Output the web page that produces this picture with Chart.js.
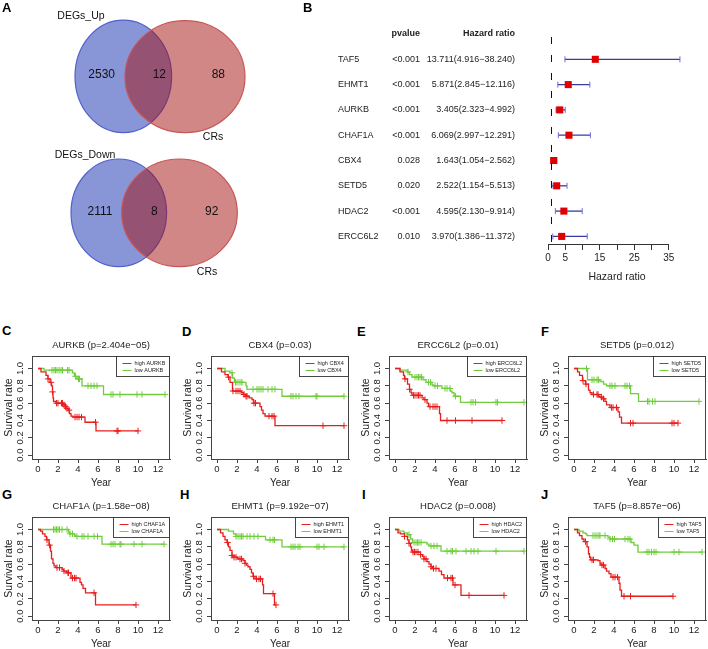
<!DOCTYPE html>
<html>
<head>
<meta charset="utf-8">
<script src="https://cdn.jsdelivr.net/npm/chart.js@4.4.1/dist/chart.umd.min.js"></script>
<style>
html, body { margin: 0; padding: 0; background: #fff; }
#fig { position: relative; width: 708px; height: 649px; overflow: hidden; font-family: 'Liberation Sans', Arial, sans-serif; }
#fig canvas { position: absolute; }
.lbl { position: absolute; font-weight: bold; font-size: 13px; line-height: 13px; color: #000; }
</style>
</head>
<body>
<div id="fig">
  <canvas id="venn" width="300" height="300" style="left:0;top:0"></canvas>
  <canvas id="forest" width="408" height="300" style="left:300px;top:0"></canvas>
  <div class="lbl" style="left:2px;top:1px">A</div>
  <div class="lbl" style="left:303px;top:1px">B</div>
  <div class="lbl" style="left:2px;top:324px">C</div>
  <div class="lbl" style="left:182px;top:325px">D</div>
  <div class="lbl" style="left:357px;top:325px">E</div>
  <div class="lbl" style="left:541px;top:325px">F</div>
  <div class="lbl" style="left:2px;top:488px">G</div>
  <div class="lbl" style="left:180px;top:488px">H</div>
  <div class="lbl" style="left:362px;top:488px">I</div>
  <div class="lbl" style="left:541px;top:488px">J</div>
</div>
<script>
// ---- Venn (A)
const vennTitles = ['DEGs_Up', 'DEGs_Down'];
const vennOther = 'CRs';
const vennUp = [2530, 12, 88];
const vennDown = [2111, 8, 92];

// ---- forest plot (B)
const genes = ['TAF5', 'EHMT1', 'AURKB', 'CHAF1A', 'CBX4', 'SETD5', 'HDAC2', 'ERCC6L2'];
const pvals = ['<0.001', '<0.001', '<0.001', '<0.001', '0.028', '0.020', '<0.001', '0.010'];
const hr = [13.711, 5.871, 3.405, 6.069, 1.643, 2.522, 4.595, 3.970];
const hrLow = [4.916, 2.845, 2.323, 2.997, 1.054, 1.154, 2.130, 1.386];
const hrHigh = [38.240, 12.116, 4.992, 12.291, 2.562, 5.513, 9.914, 11.372];
const hrTicks = [0, 5, 10, 15, 20, 25, 30, 35];
const hrTickLabels = [0, 5, 15, 25, 35];

// ---- survival curves (C-J): event times, survival after event, censor times
const kmGenes = ['AURKB', 'CBX4', 'ERCC6L2', 'SETD5', 'CHAF1A', 'EHMT1', 'HDAC2', 'TAF5'];
const kmPvals = ['2.404e\u221205', '0.03', '0.01', '0.012', '1.58e\u221208', '9.192e\u221207', '0.008', '8.857e\u221206'];
const yearTicks = [0, 2, 4, 6, 8, 10, 12];
const survTicks = [0, 0.2, 0.4, 0.6, 0.8, 1.0];

const AURKB_high_t = [0.3, 0.8, 1.0, 1.2, 1.35, 1.45, 1.5, 1.55, 1.8, 2.5, 2.7, 2.8, 3.0, 3.15, 3.3, 3.5, 4.7, 5.8];
const AURKB_high_s = [0.96, 0.92, 0.88, 0.84, 0.80, 0.73, 0.66, 0.62, 0.60, 0.58, 0.56, 0.54, 0.52, 0.48, 0.45, 0.44, 0.38, 0.28];
const AURKB_high_c = [1.0, 1.3, 1.45, 1.85, 2.0, 2.35, 2.45, 2.6, 2.75, 2.9, 3.1, 3.7, 3.9, 4.1, 4.35, 5.75, 7.9, 8.0, 10.0];
const AURKB_low_t = [0.6, 3.45, 3.65, 3.9, 4.4, 6.55];
const AURKB_low_s = [0.98, 0.95, 0.91, 0.88, 0.80, 0.70];
const AURKB_low_c = [1.4, 1.6, 1.75, 1.9, 2.1, 2.3, 2.45, 2.95, 3.1, 3.75, 4.05, 4.15, 5.0, 5.3, 5.6, 5.9, 7.3, 7.5, 8.2, 9.9, 10.4, 12.7];

const CBX4_high_t = [0.45, 0.8, 1.1, 1.3, 1.55, 2.45, 2.65, 2.85, 3.2, 3.5, 3.65, 4.3, 4.45, 4.6, 4.8, 5.8];
const CBX4_high_s = [0.96, 0.93, 0.90, 0.84, 0.74, 0.72, 0.70, 0.68, 0.66, 0.64, 0.60, 0.56, 0.52, 0.48, 0.45, 0.34];
const CBX4_high_c = [1.15, 1.6, 1.9, 2.1, 2.3, 2.7, 2.9, 3.0, 3.7, 3.85, 5.2, 5.5, 5.7, 10.6, 12.7];
const CBX4_low_t = [0.8, 1.3, 1.55, 1.75, 2.9, 3.0, 6.5];
const CBX4_low_s = [0.97, 0.95, 0.89, 0.84, 0.80, 0.76, 0.68];
const CBX4_low_c = [1.5, 1.85, 2.0, 2.2, 2.4, 2.5, 3.6, 4.0, 4.2, 4.4, 4.6, 5.1, 5.5, 5.8, 7.4, 7.6, 7.9, 8.2, 9.9, 10.0, 12.7];

const ERCC6L2_high_t = [0.5, 0.85, 0.95, 1.25, 1.45, 1.6, 1.7, 2.7, 2.9, 3.2, 3.35, 4.45, 4.55];
const ERCC6L2_high_s = [0.96, 0.92, 0.88, 0.82, 0.76, 0.72, 0.69, 0.66, 0.64, 0.60, 0.56, 0.48, 0.40];
const ERCC6L2_high_c = [1.0, 1.45, 1.85, 2.0, 2.2, 2.35, 2.5, 3.0, 3.5, 3.8, 4.0, 4.2, 5.2, 6.05, 7.7, 10.7];
const ERCC6L2_low_t = [0.5, 1.25, 1.45, 1.7, 2.8, 3.1, 3.7, 3.85, 4.7, 5.55, 5.7, 5.9, 6.55];
const ERCC6L2_low_s = [0.98, 0.96, 0.93, 0.90, 0.87, 0.84, 0.81, 0.80, 0.77, 0.74, 0.72, 0.68, 0.61];
const ERCC6L2_low_c = [1.3, 2.0, 2.2, 2.35, 2.5, 2.65, 3.35, 3.55, 4.0, 4.25, 5.0, 5.2, 5.5, 6.05, 7.6, 7.8, 8.05, 10.1, 10.25, 12.9];

const SETD5_high_t = [0.35, 0.55, 0.85, 1.15, 1.45, 1.6, 1.8, 2.45, 2.6, 2.9, 3.1, 3.25, 3.6, 4.4, 4.55, 4.75];
const SETD5_high_s = [0.96, 0.92, 0.86, 0.82, 0.75, 0.72, 0.70, 0.68, 0.67, 0.65, 0.62, 0.58, 0.55, 0.50, 0.44, 0.37];
const SETD5_high_c = [0.9, 1.2, 1.95, 2.3, 2.4, 2.75, 2.95, 3.75, 3.9, 4.25, 5.65, 5.9, 9.8, 10.0, 10.4];
const SETD5_low_t = [1.35, 2.6, 2.95, 3.25, 5.65, 6.45];
const SETD5_low_s = [0.87, 0.85, 0.82, 0.80, 0.71, 0.62];
const SETD5_low_c = [1.25, 1.8, 2.0, 2.3, 2.45, 3.6, 3.8, 4.1, 5.1, 5.3, 5.55, 7.35, 7.5, 7.85, 8.1, 12.5];

const CHAF1A_high_t = [0.25, 0.45, 0.7, 0.85, 1.1, 1.25, 1.35, 1.5, 1.6, 1.8, 2.4, 2.55, 2.9, 3.3, 4.2, 4.35, 4.5, 4.75, 5.75];
const CHAF1A_high_s = [0.98, 0.95, 0.92, 0.88, 0.82, 0.75, 0.66, 0.61, 0.58, 0.56, 0.54, 0.52, 0.50, 0.44, 0.39, 0.36, 0.32, 0.27, 0.13];
const CHAF1A_high_c = [0.9, 1.15, 1.9, 2.15, 2.6, 3.0, 3.05, 3.45, 3.65, 3.8, 5.6, 9.8];
const CHAF1A_low_t = [3.05, 3.2, 3.65, 3.8, 6.4];
const CHAF1A_low_s = [0.97, 0.95, 0.93, 0.92, 0.83];
const CHAF1A_low_c = [1.55, 1.7, 1.85, 2.0, 2.15, 2.4, 2.9, 3.2, 3.45, 3.9, 4.4, 4.6, 5.0, 5.6, 5.95, 7.3, 7.5, 7.7, 8.2, 8.3, 9.6, 10.4, 12.6];

const EHMT1_high_t = [0.35, 0.6, 0.8, 1.0, 1.15, 1.3, 1.5, 1.6, 2.05, 2.6, 2.8, 2.95, 3.1, 3.3, 3.45, 3.6, 3.8, 4.55, 4.65, 5.75];
const EHMT1_high_s = [0.96, 0.92, 0.88, 0.85, 0.80, 0.76, 0.70, 0.68, 0.66, 0.64, 0.61, 0.59, 0.57, 0.54, 0.50, 0.46, 0.43, 0.36, 0.26, 0.13];
const EHMT1_high_c = [1.05, 1.5, 1.7, 1.9, 2.3, 2.45, 2.8, 3.65, 3.95, 4.2, 4.35, 5.6, 5.9];
const EHMT1_low_t = [1.15, 1.65, 1.9, 4.85, 6.5];
const EHMT1_low_s = [0.98, 0.95, 0.92, 0.88, 0.80];
const EHMT1_low_c = [1.9, 2.1, 2.3, 2.45, 2.6, 3.0, 3.3, 3.7, 4.1, 5.3, 5.6, 5.75, 7.4, 7.6, 7.8, 8.1, 8.3, 10.0, 10.2, 10.7, 12.7];

const HDAC2_high_t = [0.3, 0.55, 0.95, 1.25, 1.4, 1.55, 1.65, 1.75, 2.55, 2.75, 2.9, 3.2, 3.4, 3.6, 3.75, 4.4, 4.65, 4.9, 5.8, 6.6];
const HDAC2_high_s = [0.96, 0.95, 0.92, 0.88, 0.84, 0.80, 0.76, 0.74, 0.71, 0.69, 0.66, 0.63, 0.60, 0.57, 0.55, 0.52, 0.48, 0.44, 0.36, 0.24];
const HDAC2_high_c = [0.95, 1.4, 1.8, 1.95, 2.1, 2.3, 2.55, 2.9, 3.1, 3.6, 3.85, 4.1, 5.25, 5.6, 5.75, 6.0, 7.4, 10.9];
const HDAC2_low_t = [0.4, 0.9, 1.25, 1.55, 1.75, 3.2, 3.4, 4.6];
const HDAC2_low_s = [0.98, 0.96, 0.94, 0.89, 0.85, 0.83, 0.81, 0.75];
const HDAC2_low_c = [1.4, 1.9, 2.1, 2.25, 2.4, 2.6, 3.6, 3.9, 4.2, 5.2, 5.6, 5.75, 6.1, 7.1, 7.6, 7.9, 8.3, 10.1, 12.9];

const TAF5_high_t = [0.35, 0.55, 0.8, 1.0, 1.3, 1.45, 1.55, 1.65, 2.4, 2.6, 2.7, 3.1, 3.25, 3.5, 3.7, 4.5, 4.6, 4.75];
const TAF5_high_s = [0.96, 0.93, 0.89, 0.86, 0.80, 0.72, 0.68, 0.65, 0.64, 0.61, 0.59, 0.55, 0.52, 0.49, 0.45, 0.38, 0.30, 0.23];
const TAF5_high_c = [1.15, 1.8, 1.95, 2.8, 2.95, 3.9, 4.1, 4.35, 5.0, 5.65, 9.9];
const TAF5_low_t = [0.5, 0.9, 1.15, 1.3, 3.4, 3.6, 5.7, 6.0, 6.4];
const TAF5_low_s = [0.98, 0.96, 0.95, 0.93, 0.91, 0.89, 0.85, 0.82, 0.74];
const TAF5_low_c = [1.9, 2.1, 2.3, 2.5, 2.6, 3.1, 3.6, 3.85, 4.05, 5.1, 5.4, 5.6, 7.3, 7.5, 7.75, 8.0, 8.2, 10.0, 10.5, 12.8];

const kmHigh = [
  [AURKB_high_t, AURKB_high_s, AURKB_high_c], [CBX4_high_t, CBX4_high_s, CBX4_high_c],
  [ERCC6L2_high_t, ERCC6L2_high_s, ERCC6L2_high_c], [SETD5_high_t, SETD5_high_s, SETD5_high_c],
  [CHAF1A_high_t, CHAF1A_high_s, CHAF1A_high_c], [EHMT1_high_t, EHMT1_high_s, EHMT1_high_c],
  [HDAC2_high_t, HDAC2_high_s, HDAC2_high_c], [TAF5_high_t, TAF5_high_s, TAF5_high_c]
];
const kmLow = [
  [AURKB_low_t, AURKB_low_s, AURKB_low_c], [CBX4_low_t, CBX4_low_s, CBX4_low_c],
  [ERCC6L2_low_t, ERCC6L2_low_s, ERCC6L2_low_c], [SETD5_low_t, SETD5_low_s, SETD5_low_c],
  [CHAF1A_low_t, CHAF1A_low_s, CHAF1A_low_c], [EHMT1_low_t, EHMT1_low_s, EHMT1_low_c],
  [HDAC2_low_t, HDAC2_low_s, HDAC2_low_c], [TAF5_low_t, TAF5_low_s, TAF5_low_c]
];

const FONT = "'Liberation Sans', Arial, sans-serif";
Chart.defaults.font.family = FONT;
Chart.defaults.color = '#222';
Chart.defaults.animation = false;
Chart.defaults.plugins.legend.display = false;
Chart.defaults.plugins.tooltip.enabled = false;

const RED = 'rgb(232,30,30)';
const GREEN = 'rgb(112,205,60)';

// ===== A: Venn diagrams =====
const vennPlugin = {
  id: 'venn',
  afterDraw(chart, args, o) {
    const ctx = chart.ctx;
    const xs = chart.scales.x, ys = chart.scales.y;
    ctx.save();
    o.diagrams.forEach((d, k) => {
      const counts = [vennUp, vennDown][k];
      d.ellipses.forEach((e, j) => {
        ctx.beginPath();
        ctx.ellipse(xs.getPixelForValue(e[0]), ys.getPixelForValue(e[1]), e[2], e[3], 0, 0, Math.PI * 2);
        ctx.fillStyle = o.fills[j];
        ctx.fill();
        ctx.strokeStyle = o.strokes[j];
        ctx.lineWidth = 1.2;
        ctx.stroke();
      });
      ctx.fillStyle = '#111';
      ctx.textBaseline = 'middle';
      ctx.textAlign = 'center';
      ctx.font = '12px ' + FONT;
      counts.forEach((c, j) => ctx.fillText(String(c), xs.getPixelForValue(d.countX[j]), ys.getPixelForValue(d.countY)));
      ctx.font = '10.5px ' + FONT;
      ctx.fillText(vennTitles[k], xs.getPixelForValue(d.title[0]), ys.getPixelForValue(d.title[1]));
      ctx.fillText(vennOther, xs.getPixelForValue(d.other[0]), ys.getPixelForValue(d.other[1]));
    });
    ctx.restore();
  }
};

new Chart(document.getElementById('venn'), {
  type: 'scatter',
  data: { datasets: [] },
  options: {
    responsive: false,
    devicePixelRatio: 1,
    layout: { padding: 0 },
    scales: {
      x: { display: false, min: 0, max: 300 },
      y: { display: false, min: 0, max: 300, reverse: true }
    },
    plugins: {
      venn: {
        fills: ['rgba(17,45,177,0.5)', 'rgba(165,15,15,0.5)'],
        strokes: ['rgb(80,96,205)', 'rgb(200,85,85)'],
        diagrams: [
          { ellipses: [[123.3, 76.4, 48.3, 56.3], [185, 76.7, 60, 56]], countX: [101.7, 159.3, 218.3], countY: 75, title: [81, 16], other: [213, 137] },
          { ellipses: [[118.8, 212.8, 47.8, 53.8], [179.5, 212.8, 57.8, 53.8]], countX: [100, 154.3, 211.7], countY: 212, title: [85, 155], other: [207, 272] }
        ]
      }
    }
  },
  plugins: [vennPlugin]
});

// ===== B: forest plot =====
const rows = genes.map((g, i) => i);
const forestPlugin = {
  id: 'forestTable',
  afterDraw(chart, args, o) {
    const ctx = chart.ctx;
    const xs = chart.scales.x, ys = chart.scales.y;
    const a = chart.chartArea;
    ctx.save();
    // header
    ctx.fillStyle = '#222';
    ctx.textBaseline = 'middle';
    ctx.font = 'bold 9px ' + FONT;
    ctx.textAlign = 'right';
    const yh = ys.getPixelForValue(-1);
    ctx.fillText('pvalue', o.pCol, yh);
    ctx.fillText('Hazard ratio', o.hrCol, yh);
    ctx.font = '9px ' + FONT;
    genes.forEach((g, i) => {
      const y = ys.getPixelForValue(rows[i]);
      ctx.textAlign = 'left';
      ctx.fillText(g, o.geneCol, y);
      ctx.textAlign = 'right';
      ctx.fillText(pvals[i], o.pCol, y);
      ctx.fillText(hr[i].toFixed(3) + '(' + hrLow[i].toFixed(3) + '\u2212' + hrHigh[i].toFixed(3) + ')', o.hrCol, y);
    });
    // reference line at HR = 1
    const x1 = Math.round(xs.getPixelForValue(1)) + 0.5;
    ctx.strokeStyle = '#111';
    ctx.lineWidth = 1;
    ctx.setLineDash([7, 11]);
    ctx.beginPath();
    ctx.moveTo(x1, a.top + 3);
    ctx.lineTo(x1, a.bottom - 2);
    ctx.stroke();
    ctx.setLineDash([]);
    // axis line from 0 to 35
    const yb = Math.round(a.bottom) + 0.5;
    ctx.strokeStyle = '#333';
    ctx.beginPath();
    ctx.moveTo(xs.getPixelForValue(hrTicks[0]), yb);
    ctx.lineTo(xs.getPixelForValue(hrTicks[hrTicks.length - 1]), yb);
    ctx.stroke();
    ctx.restore();
  }
};

const BLUE = 'rgb(58,58,165)';
const forestSets = [
  {
    data: rows.map(i => ({ x: hr[i], y: i })),
    pointStyle: 'rect', pointRadius: 5, pointBorderWidth: 0,
    pointBackgroundColor: 'rgb(225,0,0)', order: 0
  },
  {
    data: rows.flatMap(i => [{ x: hrLow[i], y: i }, { x: hrHigh[i], y: i }]),
    pointStyle: 'line', pointRotation: 90, pointRadius: 3, pointBorderWidth: 1,
    pointBorderColor: 'rgb(110,110,215)', order: 1
  }
].concat(rows.map(i => ({
  data: [{ x: hrLow[i], y: i }, { x: hrHigh[i], y: i }],
  showLine: true, borderColor: BLUE, borderWidth: 1.3, pointRadius: 0, order: 2
})));

new Chart(document.getElementById('forest'), {
  type: 'scatter',
  data: { datasets: forestSets },
  options: {
    responsive: false,
    devicePixelRatio: 1,
    layout: { padding: { left: 248, top: 34, right: 22, bottom: 0 } },
    scales: {
      x: {
        min: 0, max: 40,
        afterBuildTicks: s => { s.ticks = hrTicks.map(v => ({ value: v })); },
        afterFit: s => { s.height = 56; },
        border: { display: false },
        grid: { drawOnChartArea: false, drawTicks: true, tickLength: 6, color: '#333' },
        ticks: {
          autoSkip: false, maxRotation: 0, padding: 2, color: '#222',
          font: { size: 10 },
          callback: v => hrTickLabels.includes(v) ? String(v) : ''
        },
        title: { display: true, text: 'Hazard ratio', font: { size: 10.5 }, color: '#222', padding: { top: 0, bottom: 17 } }
      },
      y: { display: false, min: -1, max: 7.3, reverse: true }
    },
    plugins: {
      forestTable: { geneCol: 38, pCol: 120, hrCol: 215 }
    }
  },
  plugins: [forestPlugin]
});

// ===== C-J: Kaplan-Meier curves =====
function survAt(ts, ss, t) {
  let s = 1;
  ts.forEach((e, i) => { if (e <= t) s = ss[i]; });
  return s;
}
function stepData(ts, ss, cs) {
  const pts = [{ x: 0, y: 1 }];
  ts.forEach((t, i) => pts.push({ x: t, y: ss[i] }));
  pts.push({ x: Math.max(ts[ts.length - 1], ...cs), y: ss[ss.length - 1] });
  return pts;
}
function censorData(ts, ss, cs) {
  return cs.map(t => ({ x: t, y: survAt(ts, ss, t) }));
}

const kmFrame = {
  id: 'kmFrame',
  afterDraw(chart, args, o) {
    const ctx = chart.ctx;
    const a = chart.chartArea;
    ctx.save();
    ctx.strokeStyle = '#444';
    ctx.lineWidth = 1;
    const l = Math.round(a.left) + 0.5, t = Math.round(a.top) + 0.5;
    const r = Math.round(a.right) - 0.5, b = Math.round(a.bottom) + 0.5;
    ctx.strokeRect(l, t, r - l, b - t);
    // title
    ctx.fillStyle = '#222';
    ctx.font = '9.5px ' + FONT;
    ctx.textAlign = 'center';
    ctx.textBaseline = 'middle';
    ctx.fillText(o.title, (a.left + a.right) / 2, a.top - 11);
    // legend box
    ctx.font = '5.5px ' + FONT;
    const w = Math.max(...o.labels.map(s => ctx.measureText(s).width)) + 23;
    const bx = Math.round(r - w) + 0.5, by = t, bh = 20;
    ctx.fillStyle = '#fff';
    ctx.fillRect(bx, by, r - bx, bh);
    ctx.strokeStyle = '#333';
    ctx.lineWidth = 0.9;
    ctx.strokeRect(bx, by, r - bx, bh);
    ctx.textAlign = 'left';
    o.labels.forEach((s, i) => {
      const y = by + 7 + i * 7;
      ctx.strokeStyle = o.colors[i];
      ctx.lineWidth = 1;
      ctx.beginPath();
      ctx.moveTo(bx + 6, y);
      ctx.lineTo(bx + 15, y);
      ctx.stroke();
      ctx.fillStyle = '#222';
      ctx.fillText(s, bx + 18, y);
    });
    ctx.restore();
  }
};

const boxLefts = [32, 211, 389, 568];
const boxTops = [356, 517];
const fig = document.getElementById('fig');

kmGenes.forEach((gene, k) => {
  const cv = document.createElement('canvas');
  cv.width = 175;
  cv.height = 155;
  cv.style.left = (boxLefts[k % 4] - 32) + 'px';
  cv.style.top = (boxTops[Math.floor(k / 4)] - 21) + 'px';
  fig.appendChild(cv);
  const [ht, hs, hc] = kmHigh[k];
  const [lt, ls, lc] = kmLow[k];
  new Chart(cv, {
    type: 'scatter',
    data: {
      datasets: [
        { data: stepData(ht, hs, hc), showLine: true, stepped: true, borderColor: RED, borderWidth: 1.3, pointRadius: 0 },
        { data: stepData(lt, ls, lc), showLine: true, stepped: true, borderColor: GREEN, borderWidth: 1.3, pointRadius: 0 },
        { data: censorData(ht, hs, hc), pointStyle: 'cross', pointRadius: 3.2, pointBorderWidth: 1, pointBorderColor: RED },
        { data: censorData(lt, ls, lc), pointStyle: 'cross', pointRadius: 3.2, pointBorderWidth: 1, pointBorderColor: GREEN }
      ]
    },
    options: {
      responsive: false,
      devicePixelRatio: 1,
      layout: { padding: { left: 0, top: 21, right: 4, bottom: 0 } },
      scales: {
        x: {
          min: -0.6, max: 13.2,
          afterBuildTicks: s => { s.ticks = yearTicks.map(v => ({ value: v })); },
          afterFit: s => { s.height = 31; },
          border: { display: true, color: '#444' },
          grid: { drawOnChartArea: false, tickLength: 4, color: '#444' },
          ticks: { autoSkip: false, maxRotation: 0, padding: 1, font: { size: 9.5 }, color: '#222' },
          title: { display: true, text: 'Year', font: { size: 10 }, color: '#222', padding: { top: 0, bottom: 1 } }
        },
        y: {
          min: -0.044, max: 1.144,
          afterBuildTicks: s => { s.ticks = survTicks.map(v => ({ value: v })); },
          afterFit: s => { s.width = 32; },
          border: { display: true, color: '#444' },
          grid: { drawOnChartArea: false, tickLength: 4, color: '#444' },
          ticks: {
            autoSkip: false, minRotation: 90, maxRotation: 90, crossAlign: 'center', padding: 1,
            font: { size: 9.5 }, color: '#222',
            callback: v => v.toFixed(1)
          },
          title: { display: true, text: 'Survival rate', font: { size: 10.5 }, color: '#222', padding: { top: 2.5, bottom: 0 } }
        }
      },
      plugins: {
        kmFrame: {
          title: gene + ' (p=' + kmPvals[k] + ')',
          labels: ['high ' + gene, 'low ' + gene],
          colors: [RED, GREEN]
        }
      }
    },
    plugins: [kmFrame]
  });
});
</script>
</body>
</html>
